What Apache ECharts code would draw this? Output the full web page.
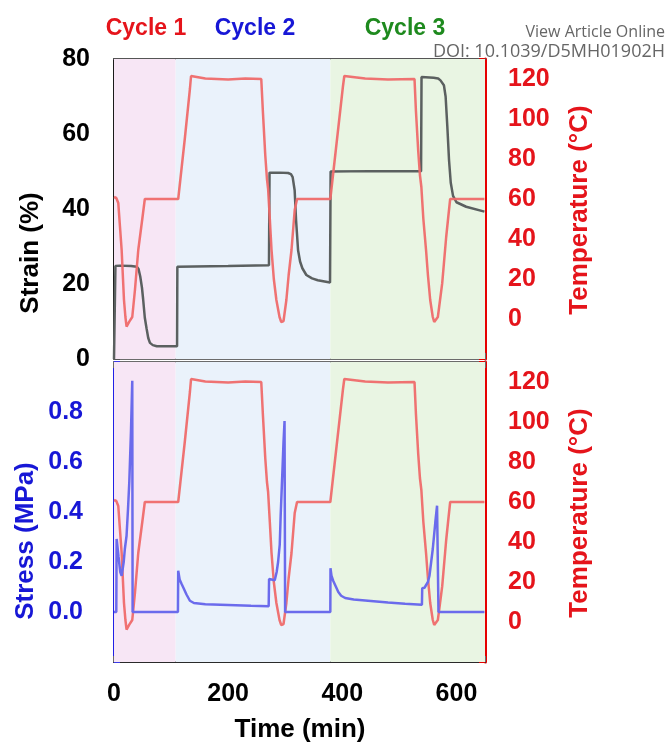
<!DOCTYPE html>
<html>
<head>
<meta charset="utf-8">
<script src="https://cdn.jsdelivr.net/npm/echarts@6/dist/echarts.min.js"></script>
<style>
html,body{margin:0;padding:0;background:#fff;}
#chart{width:668px;height:744px;}
</style>
</head>
<body>
<div id="chart"></div>
<script>
// ---- data ----
const timeTicks = [0, 200, 400, 600];
const strainTicks = [0, 20, 40, 60, 80];
const tempTicks = [0, 20, 40, 60, 80, 100, 120];
const stressTicks = [0.0, 0.2, 0.4, 0.6, 0.8];
const cycleNames = ['Cycle 1', 'Cycle 2', 'Cycle 3'];
const cycleBounds = [0, 108, 379, 650];

// [time (min), strain (%)]
const strainData = [
  [0,0],[1.5,0],[2.5,24.8],[10,24.9],[30,24.8],[40,24.6],[43,24],[46,22],[49,19],[51,16],[54,11],[57,8.2],[60,5.6],[63,4.3],[68,3.7],[75,3.4],[110.5,3.4],
  [111,24.6],[200,24.8],[271.5,25],
  [272.5,49.7],[290,49.7],[305,49.6],[310,49.3],[313,48.5],[316.5,45],[319,37],[322.5,29],[326,26],[330,24.2],[337,22.4],[347,21.5],[357,21],[378.5,20.4],
  [379.5,50],[450,50.1],[538,50.1],
  [538.8,75.2],[560,75],[568,74.8],[572,74.3],[578,73],[581,70],[584,62],[587,53],[590,47],[594,43.5],[600,41.8],[617,40.6],[649,39.3]
];

// [time (min), temperature (°C)]
const tempData = [
  [0,61],[4,60.5],[7.5,58],[10,48],[13.4,34.5],[17.5,9.5],[20,1],[22,-3.8],[24,-3],[26.8,-1.3],[29,-1.5],[32,1],[36.7,14.5],[42.5,34.5],[50,51],[54,60],
  [112.5,60],[124,90],[133,115],[135,121.5],[138,120.5],[160,120.2],[200,119.8],[230,120.2],[258,120],
  [261,103],[265,82],[268,70],[270,65],[273,50],[276,34.5],[280,20],[284.5,9.5],[290,1],[293,-1.5],[295,-2.2],[297,-1],[302,9.5],[306,22],[311,34.5],[316.6,54.5],[320.7,60],
  [379,60],[390,88],[401,116],[403.5,121.5],[407,120.5],[440,120.2],[480,119.8],[526.5,120],
  [529,104],[533,84],[536,72],[538.5,66],[542,50],[546.7,34.5],[550,22],[554,9.5],[558.5,1],[561,-1.5],[562.7,-2.2],[564.5,-1],[567.4,1],[571,9],[575,17.8],[582,41],[586,52],[589,60],
  [649,60]
];

// [time (min), stress (MPa)]
const stressData = [
  [0,0],[4,0],[4.6,0.292],[8,0.22],[11,0.16],[13.4,0.145],[17,0.2],[19,0.252],[22,0.305],[24.5,0.41],[26.8,0.52],[29.7,0.72],[32,0.925],[32.6,0],
  [112,0],[112.5,0.165],[115,0.13],[118.5,0.112],[122,0.095],[127,0.07],[133,0.045],[140,0.036],[160,0.031],[200,0.028],[240,0.025],[271,0.023],
  [271.7,0.132],[276,0.13],[281.6,0.127],[285,0.16],[287.5,0.2],[290.4,0.27],[292,0.385],[295,0.56],[297,0.68],[298.8,0.764],[299.8,0],
  [379,0],[379.3,0.175],[381,0.145],[384,0.125],[388,0.105],[393,0.08],[398,0.065],[405,0.056],[420,0.05],[445,0.045],[480,0.038],[510,0.033],[539.5,0.029],
  [540,0.095],[544,0.097],[547,0.093],[550,0.12],[552.7,0.145],[558.5,0.252],[563,0.36],[566,0.425],[568.5,0],
  [649,0]
];

// ---- styles ----
const FONT = "'Liberation Sans', Arial, sans-serif";
const RED = '#e5141b';
const BLUE = '#1717d6';
const GREEN = '#1e8a1e';
const BG = ['#f7e6f5', '#eaf2fb', '#e9f5e3'];

function bgAreas() {
  const arr = [];
  for (let i = 0; i < cycleNames.length; i++) {
    arr.push([{ xAxis: cycleBounds[i], itemStyle: { color: BG[i] } }, { xAxis: cycleBounds[i + 1] }]);
  }
  return arr;
}

const labelBase = { fontFamily: FONT, fontWeight: 'bold', fontSize: 25 };

function xAxisCfg(grid, pos, opts) {
  return Object.assign({
    type: 'value', gridIndex: grid, position: pos, min: 0, max: 650, interval: 200,
    splitLine: { show: false },
    axisLine: { onZero: false, lineStyle: { color: '#6b6b6b', width: 2 } },
    axisTick: { show: true, inside: true, length: 6, lineStyle: { color: '#6b6b6b', width: 2 } },
    axisLabel: { show: false }
  }, opts || {});
}

const chart = echarts.init(document.getElementById('chart'), null, { renderer: 'canvas' });
chart.setOption({
  animation: false,
  backgroundColor: '#ffffff',
  grid: [
    { left: 114, right: 183, top: 59, height: 300 },
    { left: 114, right: 183, top: 362, height: 300 }
  ],
  xAxis: [
    xAxisCfg(0, 'bottom'),
    xAxisCfg(0, 'top', { axisTick: { show: false }, axisLine: { onZero: false, lineStyle: { color: '#555', width: 2 } } }),
    xAxisCfg(1, 'bottom', {
      axisLine: { onZero: false, lineStyle: { color: '#2a2a2a', width: 2 } },
      axisLabel: Object.assign({ show: true, color: '#000', margin: 20,
        formatter: v => timeTicks.includes(v) ? String(v) : '' }, labelBase)
    }),
    xAxisCfg(1, 'top')
  ],
  yAxis: [
    {
      type: 'value', gridIndex: 0, position: 'left', min: 0, max: 80, interval: 20,
      splitLine: { show: false },
      axisLine: { show: true, onZero: false, lineStyle: { color: '#1a1a1a', width: 2 } },
      axisTick: { show: true, inside: true, length: 6, lineStyle: { color: '#555', width: 2 } },
      axisLabel: Object.assign({ color: '#000', margin: 24,
        formatter: v => strainTicks.includes(v) ? String(v) : '' }, labelBase)
    },
    {
      type: 'value', gridIndex: 0, position: 'right', min: -20, max: 130, interval: 20,
      splitLine: { show: false },
      axisLine: { show: true, onZero: false, lineStyle: { color: '#e60000', width: 3 } },
      axisTick: { show: true, inside: true, length: 6, lineStyle: { color: '#e60000', width: 2 } },
      axisLabel: Object.assign({ color: RED, margin: 23,
        formatter: v => tempTicks.includes(v) ? String(v) : '' }, labelBase)
    },
    {
      type: 'value', gridIndex: 1, position: 'left', min: -0.2, max: 1.0, interval: 0.2,
      splitLine: { show: false },
      axisLine: { show: true, onZero: false, lineStyle: { color: '#2020e6', width: 2 } },
      axisTick: { show: true, inside: true, length: 6, lineStyle: { color: '#3a3ae6', width: 2 } },
      axisLabel: Object.assign({ color: BLUE, margin: 31,
        formatter: v => { const r = Math.round(v * 10) / 10; return stressTicks.includes(r) ? r.toFixed(1) : ''; } }, labelBase)
    },
    {
      type: 'value', gridIndex: 1, position: 'right', min: -20, max: 130, interval: 20,
      splitLine: { show: false },
      axisLine: { show: true, onZero: false, lineStyle: { color: '#e60000', width: 3 } },
      axisTick: { show: true, inside: true, length: 6, lineStyle: { color: '#e60000', width: 2 } },
      axisLabel: Object.assign({ color: RED, margin: 23,
        formatter: v => tempTicks.includes(v) ? String(v) : '' }, labelBase)
    }
  ],
  series: [
    {
      name: 'Strain', type: 'line', xAxisIndex: 0, yAxisIndex: 0, data: strainData,
      showSymbol: false, symbol: 'none', z: 3,
      lineStyle: { color: '#5b6060', width: 2.5 },
      markArea: { silent: true, data: bgAreas() }
    },
    {
      name: 'Temperature', type: 'line', xAxisIndex: 0, yAxisIndex: 1, data: tempData,
      showSymbol: false, symbol: 'none', z: 4,
      lineStyle: { color: '#ef6a6a', width: 2.5, opacity: 0.95 }
    },
    {
      name: 'Temperature2', type: 'line', xAxisIndex: 2, yAxisIndex: 3, data: tempData,
      showSymbol: false, symbol: 'none', z: 3,
      lineStyle: { color: '#ef6a6a', width: 2.5, opacity: 0.95 },
      markArea: { silent: true, data: bgAreas() }
    },
    {
      name: 'Stress', type: 'line', xAxisIndex: 2, yAxisIndex: 2, data: stressData,
      showSymbol: false, symbol: 'none', z: 4,
      lineStyle: { color: '#6b6bec', width: 2.5 }
    }
  ],
  graphic: [
    { type: 'text', x: 146, y: 29, style: { text: cycleNames[0], fill: RED, font: "bold 23px " + FONT, textAlign: 'center', textVerticalAlign: 'middle' } },
    { type: 'text', x: 255, y: 29, style: { text: cycleNames[1], fill: BLUE, font: "bold 23px " + FONT, textAlign: 'center', textVerticalAlign: 'middle' } },
    { type: 'text', x: 405, y: 29, style: { text: cycleNames[2], fill: GREEN, font: "bold 23px " + FONT, textAlign: 'center', textVerticalAlign: 'middle' } },
    { type: 'text', x: 665, y: 32, style: { text: 'View Article Online', fill: '#666', font: "16px 'Open Sans', sans-serif", textAlign: 'right', textVerticalAlign: 'middle' } },
    { type: 'text', x: 665, y: 52, z: 100, style: { text: 'DOI: 10.1039/D5MH01902H', fill: '#666', font: "18px 'Open Sans', sans-serif", textAlign: 'right', textVerticalAlign: 'middle' } },
    { type: 'text', x: 31, y: 253, rotation: Math.PI / 2, style: { text: 'Strain (%)', fill: '#000', font: "bold 26px " + FONT, textAlign: 'center', textVerticalAlign: 'middle' } },
    { type: 'text', x: 580, y: 210, rotation: Math.PI / 2, style: { text: 'Temperature (°C)', fill: RED, font: "bold 26px " + FONT, textAlign: 'center', textVerticalAlign: 'middle' } },
    { type: 'text', x: 26, y: 541, rotation: Math.PI / 2, style: { text: 'Stress (MPa)', fill: BLUE, font: "bold 26px " + FONT, textAlign: 'center', textVerticalAlign: 'middle' } },
    { type: 'text', x: 580, y: 513, rotation: Math.PI / 2, style: { text: 'Temperature (°C)', fill: RED, font: "bold 26px " + FONT, textAlign: 'center', textVerticalAlign: 'middle' } },
    { type: 'text', x: 300, y: 730, style: { text: 'Time (min)', fill: '#000', font: "bold 26px " + FONT, textAlign: 'center', textVerticalAlign: 'middle' } }
  ]
});
</script>
</body>
</html>
